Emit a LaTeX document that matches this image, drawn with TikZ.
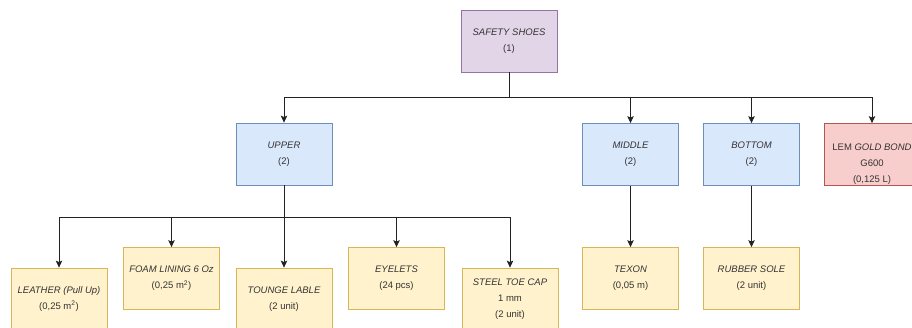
\documentclass[tikz,border=0pt]{standalone}
\usepackage{fontspec}
\setmainfont{Liberation Sans}
\usetikzlibrary{arrows.meta}
\definecolor{pfill}{HTML}{E1D5E7}\definecolor{pdraw}{HTML}{9673A6}
\definecolor{bfill}{HTML}{DAE8FC}\definecolor{bdraw}{HTML}{6C8EBF}
\definecolor{yfill}{HTML}{FFF2CC}\definecolor{ydraw}{HTML}{D6B656}
\definecolor{rfill}{HTML}{F8CECC}\definecolor{rdraw}{HTML}{B85450}
\definecolor{txt}{HTML}{333333}\definecolor{lc}{HTML}{222222}
\tikzset{
  box/.style={draw, line width=0.8pt, minimum width=96pt, minimum height=62pt, align=center, inner sep=0pt, text=txt, font=\fontsize{9.5}{16}\selectfont},
  pbox/.style={box, fill=pfill, draw=pdraw},
  bbox/.style={box, fill=bfill, draw=bdraw},
  ybox/.style={box, fill=yfill, draw=ydraw},
  rbox/.style={box, fill=rfill, draw=rdraw},
  arr/.style={draw=lc, line width=0.8pt, -{Stealth[length=7pt,width=6.5pt,inset=1.5pt]}}
}
\begin{document}
\begin{tikzpicture}[x=1pt,y=-1pt]
\useasboundingbox (0,0) rectangle (912,327);
\clip (0,0) rectangle (912,327);
\fill[white] (0,0) rectangle (912,327);
\coordinate (bar1) at (0,97);
\coordinate (bar2) at (0,217);
\node[pbox] (ss) at (509,41) {\itshape SAFETY SHOES\\(1)};
\node[bbox] (upper) at (284,154) {\itshape UPPER\\(2)};
\node[bbox] (middle) at (630.5,154.5) {\itshape MIDDLE\\(2)};
\node[bbox] (bottom) at (751.5,154.5) {\itshape BOTTOM\\(2)};
\node[rbox] (lem) at (872,154.5) {\raisebox{-9pt}[\height][\depth]{\begin{tabular}{@{}c@{}}LEM \itshape GOLD BOND\\G600\\(0,125 L)\end{tabular}}};
\node[ybox] (leather) at (59,299) {\itshape LEATHER (Pull Up)\\(0,25 m\textsuperscript{2})};
\node[ybox] (foam) at (171.5,278.5) {\itshape FOAM LINING 6 Oz\\(0,25 m\textsuperscript{2})};
\node[ybox] (tounge) at (284,299) {\itshape TOUNGE LABLE\\(2 unit)};
\node[ybox] (eyelets) at (396.5,278.5) {\itshape EYELETS\\(24 pcs)};
\node[ybox] (steel) at (510,299) {\itshape STEEL TOE CAP\\1 mm\\(2 unit)};
\node[ybox] (texon) at (630.5,278.5) {\itshape TEXON\\(0,05 m)};
\node[ybox] (rubber) at (751.5,278.5) {\itshape RUBBER SOLE\\(2 unit)};
\foreach \t in {upper,middle,bottom,lem}
  \draw[arr] (ss.south) -- (ss.south |- bar1) -| (\t.north);
\draw[arr] (upper.south) -- (tounge.north);
\foreach \t in {leather,foam,eyelets,steel}
  \draw[arr] (upper.south) -- (upper.south |- bar2) -| (\t.north);
\draw[arr] (middle.south) -- (texon.north);
\draw[arr] (bottom.south) -- (rubber.north);
\end{tikzpicture}
\end{document}
